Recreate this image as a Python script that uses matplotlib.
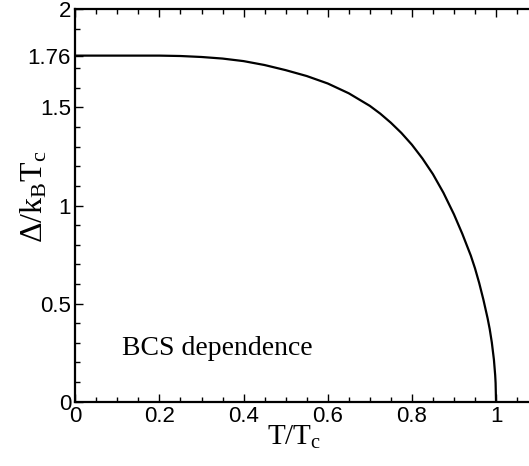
"""BCS gap: Delta/kBTc versus T/Tc."""

import matplotlib
matplotlib.use("Agg")
import matplotlib.pyplot as plt
from matplotlib.ticker import FixedLocator


# ---------------------------------------------------------------------------
# data
# ---------------------------------------------------------------------------
t_ratio = [0.0, 0.1, 0.2, 0.25, 0.3, 0.35, 0.4, 0.45, 0.5, 0.55, 0.6,
           0.65, 0.7, 0.725, 0.75, 0.775, 0.8, 0.825, 0.85, 0.875, 0.9,
           0.92, 0.94, 0.95, 0.96, 0.97, 0.98, 0.985, 0.99, 0.995, 0.998,
           0.999, 1.0]
gap = [1.764, 1.764, 1.764, 1.762, 1.757, 1.749, 1.736, 1.716, 1.690,
       1.660, 1.622, 1.572, 1.508, 1.468, 1.422, 1.370, 1.310, 1.240,
       1.160, 1.065, 0.955, 0.855, 0.745, 0.680, 0.605, 0.520, 0.425,
       0.370, 0.302, 0.214, 0.135, 0.095, 0.0]

x_major = [0, 0.2, 0.4, 0.6, 0.8, 1.0]
x_major_labels = ["0", "0.2", "0.4", "0.6", "0.8", "1"]
x_minor = [0.05, 0.1, 0.15, 0.25, 0.3, 0.35, 0.45, 0.5, 0.55, 0.65,
           0.7, 0.75, 0.85, 0.9, 0.95, 1.05, 1.1]
y_major = [0, 0.5, 1.0, 1.5, 1.76, 2.0]
y_major_labels = ["0", "0.5", "1", "1.5", "1.76", "2"]
y_minor = [0.1, 0.2, 0.3, 0.4, 0.6, 0.7, 0.8, 0.9, 1.1, 1.2, 1.3, 1.4,
           1.6, 1.7, 1.9]

SERIF = "Liberation Serif"
SANS = "Liberation Sans"

plt.rcParams["mathtext.fontset"] = "custom"
plt.rcParams["mathtext.rm"] = SERIF
plt.rcParams["mathtext.it"] = SERIF + ":italic"

fig = plt.figure(figsize=(5.29, 4.66), dpi=100)
ax = fig.add_axes([0.1423, 0.138, 0.8749, 0.842])

ax.plot(t_ratio, gap, color="black", linewidth=1.6)

ax.set_xlim(0, 1.1)
ax.set_ylim(0, 2)

ax.xaxis.set_major_locator(FixedLocator(x_major))
ax.xaxis.set_minor_locator(FixedLocator(x_minor))
ax.yaxis.set_major_locator(FixedLocator(y_major))
ax.yaxis.set_minor_locator(FixedLocator(y_minor))
ax.set_xticklabels(x_major_labels, fontfamily=SANS, fontsize=16)
ax.set_yticklabels(y_major_labels, fontfamily=SANS, fontsize=16)

ax.tick_params(which="both", direction="in", top=True, right=True,
               width=1.0)
ax.tick_params(which="major", length=6, pad=3)
ax.tick_params(which="minor", length=3.5)
for sp in ax.spines.values():
    sp.set_linewidth(1.6)

ax.set_xlabel(r"T/T$_\mathrm{c}$", fontfamily=SERIF, fontsize=21)
ax.xaxis.set_label_coords(0.4726, -0.057)
ax.set_ylabel(r"Δ/k$_\mathrm{B}$T$_\mathrm{c}$", fontfamily=SERIF,
              fontsize=23)
ax.yaxis.set_label_coords(-0.055, 0.522)

ax.text(0.111, 0.238, "BCS dependence", fontfamily=SERIF, fontsize=20,
        va="baseline", ha="left")

fig.savefig("out.png", dpi=100)
